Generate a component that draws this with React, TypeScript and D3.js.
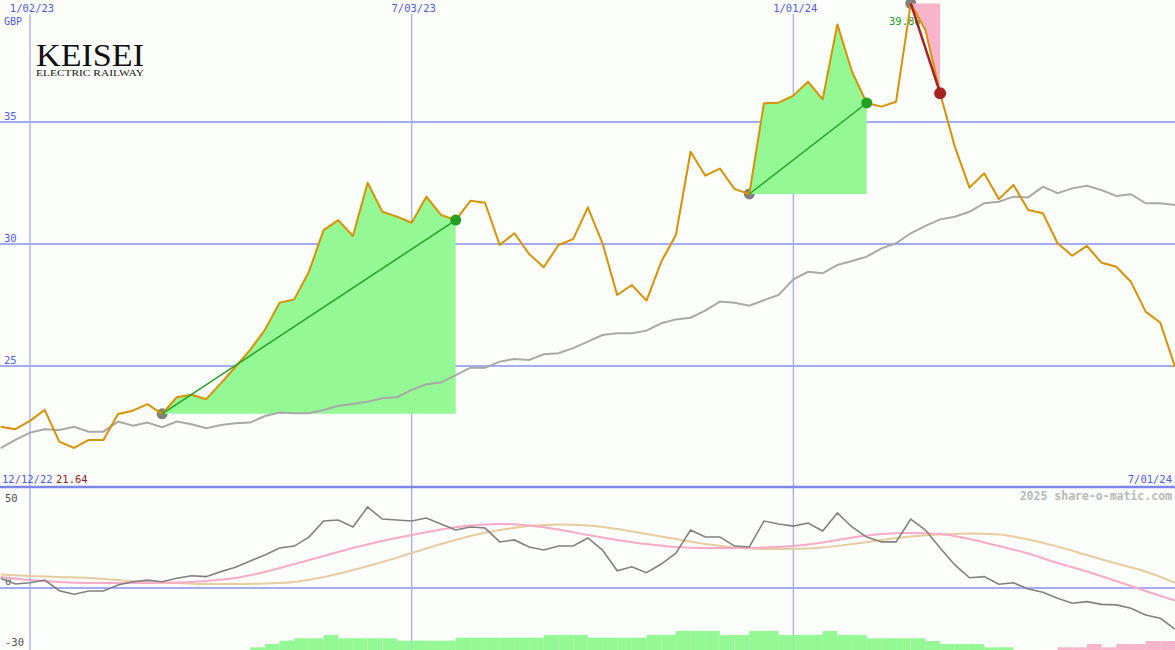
import React from 'react';
import * as d3 from 'd3';

const W = 1175;
const H = 650;

// weekly closes, first week 2022-12-19
const firstWeek = new Date(Date.UTC(2022, 11, 19));
const price = [
  22.51, 22.41, 22.75, 23.2, 21.9, 21.64, 21.97, 21.97, 23.03, 23.17, 23.44, 23.04, 23.72, 23.82, 23.64, 24.29,
  24.97, 25.66, 26.48, 27.59, 27.73, 28.86, 30.57, 30.98, 30.33, 32.51, 31.32, 31.12, 30.87, 31.94, 31.19, 30.98,
  31.77, 31.69, 29.96, 30.44, 29.59, 29.05, 29.96, 30.2, 31.5, 30.03, 27.91, 28.32, 27.68, 29.27, 30.37, 33.78,
  32.8, 33.09, 32.25, 32.05, 35.77, 35.79, 36.08, 36.65, 35.93, 39.0, 37.06, 35.78, 35.63, 35.83, 39.86, 38.77,
  36.18, 33.99, 32.31, 32.9, 31.84, 32.42, 31.39, 31.26, 30.03, 29.52, 29.92, 29.23, 29.07, 28.45, 27.23, 26.77,
  24.97,
];
const movingAvg = [
  21.63, 21.97, 22.27, 22.41, 22.38, 22.51, 22.31, 22.31, 22.72, 22.55, 22.68, 22.49, 22.72, 22.61, 22.45, 22.58,
  22.65, 22.68, 22.95, 23.09, 23.06, 23.06, 23.2, 23.37, 23.44, 23.54, 23.68, 23.72, 24.02, 24.25, 24.32, 24.63,
  24.93, 24.93, 25.18, 25.29, 25.25, 25.48, 25.52, 25.73, 26.0, 26.27, 26.34, 26.34, 26.45, 26.75, 26.91, 26.98,
  27.27, 27.64, 27.59, 27.47, 27.7, 27.91, 28.55, 28.86, 28.8, 29.14, 29.3, 29.48, 29.82, 30.03, 30.44, 30.74,
  31.01, 31.12, 31.32, 31.67, 31.73, 31.94, 31.91, 32.35, 32.08, 32.28, 32.39, 32.21, 31.97, 32.04, 31.67, 31.67,
  31.6,
];
// oscillator panel
const oscillator = [
  5.4, 2.2, 2.9, 4.4, -1.5, -3.5, -1.7, -1.7, 1.7, 3.5, 4.4, 3.5, 5.4, 6.8, 6.3, 9.1,
  11.5, 15.0, 18.3, 22.2, 23.3, 28.3, 37.2, 37.8, 33.9, 45.0, 38.3, 37.8, 37.2, 38.9, 35.6, 32.2,
  33.9, 33.3, 25.6, 26.7, 22.8, 21.1, 23.3, 23.3, 27.8, 21.1, 9.6, 11.8, 8.5, 13.3, 19.4, 32.2,
  28.3, 28.3, 23.3, 22.8, 37.2, 35.6, 34.4, 36.1, 31.7, 41.7, 33.9, 28.3, 25.6, 25.6, 38.3, 32.2,
  22.2, 12.8, 5.7, 6.3, 2.1, 2.9, -0.6, -2.4, -5.7, -8.5, -7.6, -9.1, -9.4, -11.3, -15.0, -16.8,
  -22.9,
];
// smooth signal lines, every second week
const pinkSignal = [
  6.1, 4.4, 3.3, 2.8, 2.8, 2.8, 3.0, 3.9, 5.6, 8.9, 13.3, 17.8, 22.2, 26.1, 29.4, 32.5,
  34.7, 35.6, 34.7, 32.5, 29.4, 26.7, 24.4, 22.8, 22.2, 22.2, 22.5, 23.3, 25.3, 28.0, 30.0, 30.6,
  30.0, 27.2, 23.3, 19.2, 13.9, 9.2, 3.9, -1.7, -7.0,
];
const tanSignal = [
  7.5, 6.7, 6.1, 5.6, 4.4, 3.3, 2.8, 2.2, 2.2, 2.5, 3.3, 6.1, 10.0, 14.4, 19.4, 24.4,
  28.9, 32.2, 34.4, 35.3, 34.7, 32.8, 30.0, 27.2, 24.4, 22.5, 21.7, 21.7, 22.5, 24.4, 26.7, 28.6,
  29.7, 30.3, 29.7, 27.0, 23.0, 18.3, 13.6, 9.2, 2.9,
];
// histogram, one bar per week (weeks 0..79)
const histogram = [
  0, 0, 0, 0, 0, 0, 0, 0, 0, 0, 0, 0, 0, 0, 0, 0,
  0, 0.85, 1.9, 2.95, 3.7, 3.7, 4.75, 3.7, 3.7, 3.7, 3.7, 2.95, 2.95, 2.95, 2.95, 3.9,
  3.9, 3.9, 3.9, 3.9, 3.9, 4.75, 4.75, 4.75, 3.9, 3.9, 3.9, 3.9, 4.75, 4.75, 6.0, 6.0,
  6.0, 4.75, 4.75, 6.0, 6.0, 4.75, 4.75, 4.75, 6.0, 4.75, 4.75, 3.7, 3.7, 3.7, 3.7, 2.85,
  1.9, 1.9, 1.9, 0.85, 0.85, 0, 0, 0, -0.85, -0.85, -1.9, -0.85, -1.9, -1.9, -2.85, -2.85,
];
// trades: start / end week indexes
const gainTrades = [
  [11, 31],
  [51, 59],
];
const lossTrades = [[62, 64]];

const dateTicks = [new Date(Date.UTC(2023, 0, 2)), new Date(Date.UTC(2023, 6, 3)), new Date(Date.UTC(2024, 0, 1))];
const dateTickLabels = ['1/02/23', '7/03/23', '1/01/24'];
const priceTicks = [25, 30, 35];
const oscTicks = [50, 0, -30];

const weekDates = price.map((_, k) => d3.utcDay.offset(firstWeek, 7 * k));

const BLUE_TXT = '#5058f0';
const GRID = '#a4acf2';
const MONO = '"DejaVu Sans Mono", monospace';

export default function App() {
  const x = d3.scaleUtc().domain([new Date(Date.UTC(2023, 0, 2)), new Date(Date.UTC(2024, 6, 1))]).range([30, 1175]);
  const yTop = d3.scaleLinear().domain([25, 35]).range([366, 122]);
  const yBot = d3.scaleLinear().domain([0, 50]).range([588, 498]);
  const hScale = d3.scaleLinear().domain([0, 6]).range([0, 19]);
  const xk = (k: number) => x(weekDates[k]);

  const priceLine = d3.line<number>().x((_, k) => xk(k)).y((d) => yTop(d));
  const oscLine = d3.line<number>().x((_, k) => xk(k)).y((d) => yBot(d));
  const evenLine = d3
    .line<number>()
    .x((_, j) => xk(j * 2))
    .y((d) => yBot(d))
    .curve(d3.curveMonotoneX);

  const tradeArea = (a: number, b: number) =>
    d3
      .area<number>()
      .x((k) => xk(k))
      .y0(yTop(price[a]))
      .y1((k) => yTop(price[k]))(d3.range(a, b + 1)) as string;

  return (
    <svg
      width={W}
      height={H}
      style={{ position: 'absolute', left: 0, top: 0, display: 'block' }}
      xmlns="http://www.w3.org/2000/svg"
    >
      <defs>
        <clipPath id="topClip">
          <rect x={0} y={0} width={W} height={486} />
        </clipPath>
        <clipPath id="botClip">
          <rect x={0} y={488} width={W} height={H - 488} />
        </clipPath>
      </defs>
      <rect x={0} y={0} width={W} height={H} fill="#fcfefc" />

      {/* top panel grid */}
      {priceTicks.map((t) => (
        <line key={'h' + t} x1={0} x2={W} y1={yTop(t)} y2={yTop(t)} stroke={GRID} strokeWidth={2} />
      ))}
      {dateTicks.map((d, i) => (
        <line key={'v' + i} x1={x(d)} x2={x(d)} y1={14} y2={H} stroke={GRID} strokeWidth={1.3} />
      ))}
      {dateTicks.map((d, i) => (
        <text key={'dl' + i} x={x(d) + 2} y={12} fontFamily={MONO} fontSize={10.5} fill={BLUE_TXT} textAnchor="middle">
          {dateTickLabels[i]}
        </text>
      ))}
      <text x={4} y={25} fontFamily={MONO} fontSize={10} fill={BLUE_TXT}>
        GBP
      </text>
      {priceTicks.map((t) => (
        <text key={'pl' + t} x={4} y={yTop(t) - 2} fontFamily={MONO} fontSize={10.5} fill={BLUE_TXT}>
          {t}
        </text>
      ))}

      {/* logo */}
      <text
        x={36}
        y={66}
        fontFamily='"Liberation Serif", "DejaVu Serif", serif'
        fontSize={31}
        fill="#111"
        textLength={108}
        lengthAdjust="spacingAndGlyphs"
      >
        KEISEI
      </text>
      <text
        x={36}
        y={76}
        fontFamily='"Liberation Serif", "DejaVu Serif", serif'
        fontSize={8.5}
        fill="#111"
        textLength={108}
        lengthAdjust="spacingAndGlyphs"
      >
        ELECTRIC RAILWAY
      </text>

      <g clipPath="url(#topClip)">
        {/* start dots (under fills) */}
        {[...gainTrades, ...lossTrades].map(([a], i) => (
          <circle key={'sd' + i} cx={xk(a)} cy={yTop(price[a])} r={5.5} fill="#808080" />
        ))}
        {gainTrades.map(([a, b], i) => (
          <path key={'ga' + i} d={tradeArea(a, b)} fill="#94f894" />
        ))}
        {lossTrades.map(([a, b], i) => (
          <path key={'la' + i} d={tradeArea(a, b)} fill="#f8b4ca" />
        ))}
        <path d={priceLine(movingAvg) as string} fill="none" stroke="#a8a8a8" strokeWidth={2} />
        <text x={889} y={25} fontFamily={MONO} fontSize={10.5} fill="#20a020">
          {price[lossTrades[0][0]].toFixed(2)}
        </text>
        <path d={priceLine(price) as string} fill="none" stroke="#da9100" strokeWidth={2} strokeLinejoin="round" />
        {gainTrades.map(([a, b], i) => (
          <g key={'gl' + i}>
            <line x1={xk(a)} y1={yTop(price[a])} x2={xk(b)} y2={yTop(price[b])} stroke="#22a022" strokeWidth={1.5} />
            <circle cx={xk(b)} cy={yTop(price[b])} r={5.5} fill="#22a022" />
          </g>
        ))}
        {lossTrades.map(([a, b], i) => (
          <g key={'ll' + i}>
            <line x1={xk(a)} y1={yTop(price[a])} x2={xk(b)} y2={yTop(price[b])} stroke="#a82020" strokeWidth={2.5} />
            <circle cx={xk(b)} cy={yTop(price[b])} r={6} fill="#a82020" />
          </g>
        ))}
      </g>

      {/* divider and labels */}
      <line x1={0} x2={W} y1={487} y2={487} stroke="#7c86ec" strokeWidth={2.4} />
      <text x={2} y={483} fontFamily={MONO} fontSize={10.5} fill={BLUE_TXT}>
        12/12/22
      </text>
      <text x={56} y={483} fontFamily={MONO} fontSize={10.5} fill="#a02020">
        {d3.min(price)!.toFixed(2)}
      </text>
      <text x={1172} y={483} fontFamily={MONO} fontSize={10.5} fill={BLUE_TXT} textAnchor="end">
        7/01/24
      </text>

      {/* bottom panel */}
      <line x1={0} x2={W} y1={yBot(0)} y2={yBot(0)} stroke={GRID} strokeWidth={2} />
      <text x={1172} y={500} fontFamily={MONO} fontSize={11.5} fontWeight="bold" fill="#b8b8b8" textAnchor="end">
        2025 share-o-matic.com
      </text>
      {oscTicks.map((t) => (
        <text key={'ol' + t} x={5} y={yBot(t) + (t === 0 ? -3 : 4)} fontFamily={MONO} fontSize={10.5} fill="#505050">
          {t}
        </text>
      ))}
      <g clipPath="url(#botClip)">
        {histogram.map((v, k) =>
          v === 0 ? null : (
            <rect
              key={'hb' + k}
              x={xk(k)}
              width={xk(k + 1) - xk(k)}
              y={H - hScale(Math.abs(v))}
              height={hScale(Math.abs(v))}
              fill={v > 0 ? '#94f894' : '#f8b4ca'}
            />
          )
        )}
        <path d={evenLine(tanSignal) as string} fill="none" stroke="#e6cc9e" strokeWidth={2} />
        <path d={evenLine(pinkSignal) as string} fill="none" stroke="#f8aac6" strokeWidth={2} />
        <path d={oscLine(oscillator) as string} fill="none" stroke="#808080" strokeWidth={1.6} />
      </g>
    </svg>
  );
}
